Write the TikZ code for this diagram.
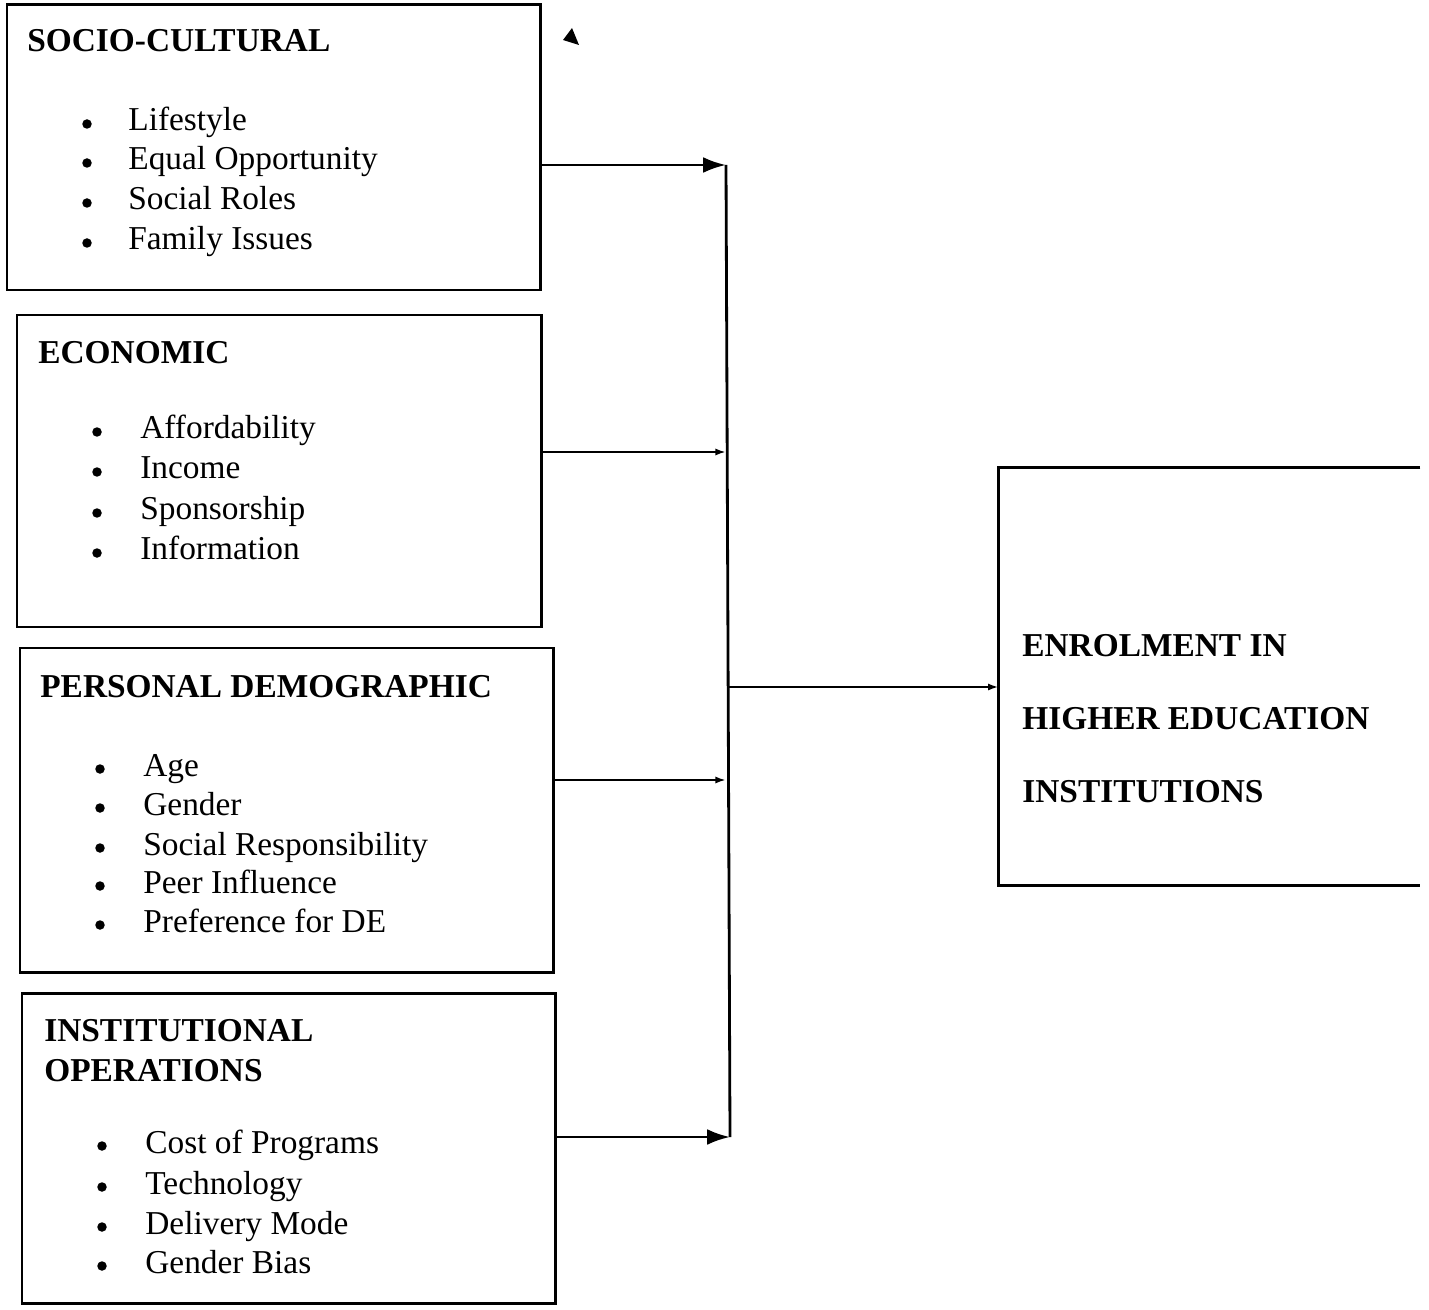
\documentclass[tikz,border=0pt]{standalone}
\usepackage{fontspec}
\setmainfont{Liberation Serif}
\usetikzlibrary{arrows.meta,positioning,fit}

\begin{document}
\begin{tikzpicture}[x=0.02cm,y=-0.02cm,font=\fontsize{19}{23}\selectfont,
  box/.style={draw,line width=1.7pt,inner sep=0pt},
  head/.style={anchor=base west,inner sep=0pt,font=\fontsize{19}{23}\selectfont\bfseries},
  item/.style={anchor=base west,inner sep=0pt},
  dot/.style={circle,fill,inner sep=0pt,minimum size=0.19cm,yshift=0.14cm},
  bigarr/.style={-{Latex[length=13pt,width=9pt]},line width=1.6pt},
  smallarr/.style={-{Latex[length=6pt,width=4pt]},line width=1.6pt}]
\useasboundingbox (0,0) rectangle (1429,1310); % page size

% factor boxes
\node[box,fit={(7,5) (540,290)}] (soc) {};
\node[box,fit={(17,315) (541,627)}] (eco) {};
\node[box,fit={(20,648) (553,972)}] (per) {};
\node[box,fit={(22,993) (555,1303)}] (ins) {};

% headings
\node[head] (socH) at (27,52) {SOCIO-CULTURAL};
\node[head] (ecoH) at (38,364) {ECONOMIC};
\node[head] (perH) at (40,697) {PERSONAL DEMOGRAPHIC};
\node[head] (insH) at (44,1041) {INSTITUTIONAL};
\node[head] (insH2) at (44,1081) {OPERATIONS};

% bullet lists
\foreach \y/\t in {131/Lifestyle,170/Equal Opportunity,210/Social Roles,250/Family Issues}
  {\node[dot] at (87,\y) {}; \node[item] at (128,\y) {\t};}
\foreach \y/\t in {439/Affordability,479/Income,520/Sponsorship,560/Information}
  {\node[dot] at (97,\y) {}; \node[item] at (140,\y) {\t};}
\foreach \y/\t in {776/Age,815/Gender,855/Social Responsibility,893/Peer Influence,932/Preference for DE}
  {\node[dot] at (100,\y) {}; \node[item] at (143,\y) {\t};}
\foreach \y/\t in {1153/Cost of Programs,1194/Technology,1234/Delivery Mode,1273/Gender Bias}
  {\node[dot] at (102,\y) {}; \node[item] at (145,\y) {\t};}

% outcome box (open on the right)
\node[fit={(999,468) (1420,885)},inner sep=0pt] (enr) {};
\draw[line width=1.7pt] (enr.north east) -- (enr.north west) -- (enr.south west) -- (enr.south east);
\node[head] (enrA) at (1022,656) {ENROLMENT IN};
\node[head] (enrB) at (1022,729) {HIGHER EDUCATION};
\node[head] (enrC) at (1022,802) {INSTITUTIONS};

% collecting line
\coordinate (b1) at (726,165);
\coordinate (b2) at (726,452);
\coordinate (b3) at (726,780);
\coordinate (b4) at (730,1137);
\coordinate (bm) at (728,687);
\draw[line width=1.6pt] (b1) -- (b4);
\draw[bigarr] (soc.east |- b1) -- (b1);
\draw[smallarr] (eco.east |- b2) -- (b2);
\draw[smallarr] (per.east |- b3) -- (b3);
\draw[bigarr] (ins.east |- b4) -- (b4);
\draw[smallarr] (bm) -- (bm -| enr.west);

% stray tip near the top
\fill (563,40) -- (572,28) -- (579,45) -- cycle;
\end{tikzpicture}
\end{document}
